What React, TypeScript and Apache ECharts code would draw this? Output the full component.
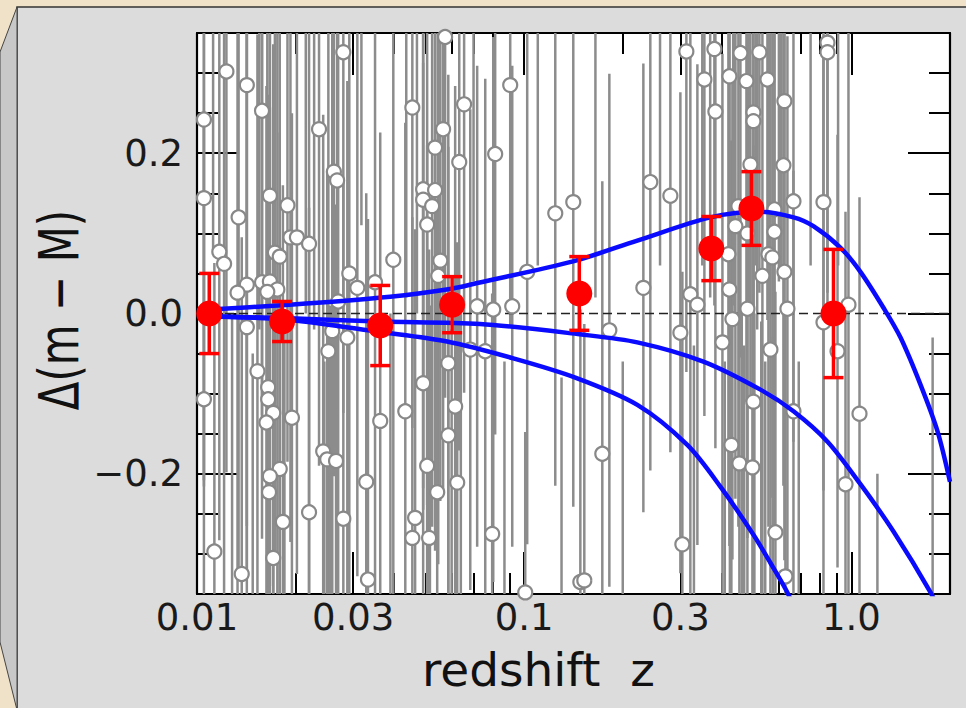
import React, { useEffect, useRef } from "react";
import * as echarts from "echarts";

// ---------- axis ranges & ticks ----------
const xMin = 0.01;
const xMax = 2.0;
const yMin = -0.35;
const yMax = 0.35;
const xMajorTicks = [0.01, 0.03, 0.1, 0.3, 1.0];
const xMajorLabels = ["0.01", "0.03", "0.1", "0.3", "1.0"];
const xMinorTicks = [0.02, 0.04, 0.05, 0.06, 0.07, 0.08, 0.09, 0.2, 0.4, 0.5, 0.6, 0.7, 0.8, 0.9, 2.0];
const yMajorTicks = [-0.2, 0, 0.2];
const yMajorLabels = ["\u22120.2", "0.0", "0.2"];
const yMinorTicks = [-0.3, -0.25, -0.15, -0.1, -0.05, 0.05, 0.1, 0.15, 0.25, 0.3];

// ---------- individual supernovae (grey) ----------
const snZ = [
  0.0123, 0.0142, 0.0158, 0.0105, 0.0236, 0.028, 0.0262, 0.0268, 0.0105, 0.0167,
  0.0189, 0.0134, 0.0193, 0.0202, 0.022, 0.0117, 0.0121, 0.0173, 0.0179, 0.0292,
  0.0142, 0.0133, 0.0158, 0.0167, 0.0176, 0.0164, 0.0309, 0.035, 0.027, 0.0398,
  0.0142, 0.0153, 0.0165, 0.0165, 0.0171, 0.0163, 0.0105, 0.0195, 0.0179, 0.0167,
  0.0166, 0.0183, 0.0113, 0.0137, 0.0171, 0.022, 0.0243, 0.025, 0.0266, 0.0252,
  0.0259, 0.0288, 0.0329, 0.028, 0.0333, 0.0363,
  0.0573, 0.0455, 0.0655, 0.0906, 0.0565, 0.0534, 0.0633, 0.0815, 0.0491, 0.0534,
  0.0491, 0.0523, 0.0505, 0.0554, 0.0546, 0.1021, 0.1244, 0.1412, 0.0718, 0.0804,
  0.0919, 0.0433, 0.0491, 0.0586, 0.0615, 0.0586, 0.0505, 0.0542, 0.0624, 0.0464,
  0.0455, 0.0512, 0.0798, 0.0684, 0.076, 0.1007, 0.1484,
  0.2428, 0.2796, 0.2312, 0.3129, 0.3811, 0.4577, 0.5231, 0.3552, 0.4236, 0.4775,
  0.5535, 0.3838, 0.5015, 0.5015, 0.4911, 0.4512, 0.4418, 0.4808, 0.4206, 0.5343,
  0.4236, 0.3218, 0.3381, 0.4808, 0.5574, 0.6237, 0.8445, 0.8445, 0.6194, 0.6648,
  0.8211, 0.5814, 0.5814, 0.5733, 0.6237, 0.6371, 0.979, 0.8211, 0.182, 0.3,
  0.4033, 0.4326, 0.5653, 0.1732, 0.5015, 0.4295, 0.4544, 0.498, 0.3042, 0.1526,
  0.9063, 0.6648, 1.058, 0.9587, 0.5855, 0.6282,
  0.0112, 0.0148, 0.0215, 0.0245, 0.0318, 0.039, 0.047, 0.06, 0.07, 0.087,
  0.11, 0.13, 0.165, 0.2, 0.26, 0.33, 0.37, 0.41, 0.44, 0.47,
  0.51, 0.545, 0.6, 0.69, 0.75, 0.91, 1.2, 1.77,
  0.425, 0.435, 0.462, 0.485, 0.505, 0.515, 0.53, 0.56, 0.575, 0.61,
  0.0128, 0.0155, 0.0185, 0.0228, 0.0255, 0.0436, 0.0515, 0.0545, 0.064, 0.35,
];
const snDm = [
  0.302, 0.285, 0.253, 0.242, 0.23, 0.326, 0.177, 0.166, 0.144, 0.147,
  0.135, 0.12, 0.095, 0.095, 0.087, 0.077, 0.062, 0.076, 0.071, 0.05,
  0.036, 0.026, 0.039, 0.04, 0.03, 0.027, 0.032, 0.039, 0.015, 0.067,
  -0.017, -0.072, -0.092, -0.107, -0.124, -0.136, -0.107, -0.13, -0.194, -0.203,
  -0.223, -0.26, -0.297, -0.325, -0.305, -0.248, -0.172, -0.182, -0.184, -0.047,
  -0.022, -0.03, -0.21, -0.256, -0.332, -0.134,
  0.345, 0.257, 0.261, 0.285, 0.23, 0.207, 0.189, 0.199, 0.155, 0.154,
  0.142, 0.134, 0.111, 0.066, 0.047, 0.052, 0.125, 0.139, 0.009, 0.005,
  0.009, -0.122, -0.087, -0.062, -0.116, -0.152, -0.19, -0.223, -0.211, -0.255,
  -0.28, -0.28, -0.275, -0.045, -0.047, -0.348, -0.335,
  0.164, 0.147, 0.032, 0.327, 0.33, 0.325, 0.326, 0.292, 0.296, 0.29,
  0.292, 0.252, 0.251, 0.24, 0.186, 0.134, 0.109, 0.1, 0.074, 0.047,
  0.03, 0.024, 0.011, 0.006, 0.074, 0.265, 0.338, 0.326, 0.185, 0.14,
  0.139, 0.13, 0.102, 0.07, 0.052, 0.006, 0.011, -0.011, -0.021, -0.024,
  -0.036, -0.007, -0.045, -0.175, -0.11, -0.164, -0.187, -0.192, -0.288, -0.333,
  -0.047, -0.122, -0.125, -0.213, -0.273, -0.328,
  0.42, -0.45, 0.4, -0.42, 0.45, -0.4, 0.4, -0.42, 0.38, -0.4,
  0.4, -0.4, 0.42, -0.4, 0.4, -0.4, 0.42, -0.42, 0.4, -0.4,
  0.42, -0.42, 0.4, -0.4, 0.4, 0.4, -0.45, -0.4,
  -0.42, 0.41, -0.44, 0.43, -0.4, 0.42, -0.43, 0.4, -0.41, 0.41,
  -0.42, 0.43, -0.4, 0.44, -0.41, 0.42, -0.43, 0.41, -0.44, 0.42,
];
const snErr = [
  0.5, 0.55, 0.38, 0.45, 0.42, 0.45, 0.38, 0.42, 0.36, 0.5,
  0.32, 0.45, 0.38, 0.42, 0.5, 0.36, 0.42, 0.38, 0.46, 0.5,
  0.36, 0.42, 0.32, 0.38, 0.42, 0.46, 0.36, 0.42, 0.46, 0.45,
  0.38, 0.42, 0.32, 0.38, 0.46, 0.42, 0.36, 0.38, 0.42, 0.46,
  0.38, 0.42, 0.36, 0.42, 0.46, 0.38, 0.42, 0.36, 0.32, 0.42,
  0.38, 0.32, 0.36, 0.42, 0.45, 0.36,
  0.45, 0.4, 0.36, 0.3, 0.45, 0.4, 0.36, 0.35, 0.4, 0.45,
  0.36, 0.4, 0.35, 0.3, 0.36, 0.34, 0.34, 0.38, 0.3, 0.34,
  0.3, 0.36, 0.4, 0.36, 0.4, 0.36, 0.4, 0.36, 0.3, 0.36,
  0.4, 0.36, 0.3, 0.3, 0.34, 0.2, 0.34,
  0.36, 0.32, 0.28, 0.4, 0.32, 0.38, 0.3, 0.42, 0.34, 0.4,
  0.3, 0.42, 0.34, 0.36, 0.3, 0.4, 0.34, 0.38, 0.3, 0.42,
  0.32, 0.38, 0.3, 0.36, 0.34, 0.38, 0.34, 0.3, 0.4, 0.3,
  0.36, 0.32, 0.38, 0.3, 0.36, 0.34, 0.42, 0.34, 0.32, 0.3,
  0.36, 0.3, 0.4, 0.34, 0.32, 0.38, 0.3, 0.36, 0.34, 0.32,
  0.27, 0.3, 0.27, 0.34, 0.3, 0.34,
  0.34, 0.4, 0.4, 0.36, 0.34, 0.4, 0.4, 0.4, 0.34, 0.34,
  0.34, 0.32, 0.4, 0.34, 0.34, 0.36, 0.4, 0.36, 0.4, 0.36,
  0.36, 0.36, 0.36, 0.34, 0.34, 0.34, 0.25, 0.37,
  0.45, 0.4, 0.45, 0.42, 0.4, 0.44, 0.42, 0.4, 0.38, 0.36,
  0.42, 0.45, 0.4, 0.46, 0.42, 0.4, 0.44, 0.4, 0.44, 0.36,
];

// ---------- binned averages (red) ----------
const binZ = [0.0109, 0.0182, 0.0363, 0.0602, 0.1473, 0.373, 0.4945, 0.881];
const binDm = [0.0, -0.01, -0.015, 0.011, 0.025, 0.081, 0.131, 0.0];
const binErr = [0.05, 0.025, 0.05, 0.035, 0.046, 0.04, 0.046, 0.08];

// ---------- model curves (blue) ----------
const curve1Z = [0.01, 0.0192, 0.0389, 0.06, 0.0718, 0.141, 0.2216, 0.3705, 0.516, 0.665, 0.765, 0.926, 1.065, 1.262, 1.412, 1.626, 1.832, 2.0];
const curve1Dm = [0.004, 0.011, 0.021, 0.031, 0.038, 0.065, 0.091, 0.12, 0.127, 0.12, 0.109, 0.082, 0.052, 0.005, -0.03, -0.089, -0.147, -0.21];
const curve2Z = [0.01, 0.0192, 0.0363, 0.0733, 0.148, 0.2216, 0.3527, 0.527, 0.665, 0.845, 1.065, 1.344, 1.744, 1.9];
const curve2Dm = [-0.003, -0.006, -0.01, -0.013, -0.026, -0.036, -0.06, -0.095, -0.122, -0.16, -0.213, -0.272, -0.348, -0.38];
const curve3Z = [0.01, 0.0192, 0.0363, 0.0581, 0.0926, 0.1432, 0.2216, 0.315, 0.3975, 0.5017, 0.565, 0.642, 0.7];
const curve3Dm = [-0.003, -0.008, -0.023, -0.035, -0.056, -0.08, -0.114, -0.164, -0.216, -0.276, -0.311, -0.351, -0.39];

const FONT = '"DejaVu Sans", Verdana, sans-serif';
const lg = (z: number) => Math.log10(z);

function labelFor(values: number[], labels: string[], v: number, tf: (n: number) => number) {
  const i = values.findIndex((t) => Math.abs(tf(t) - v) < 1e-6);
  return i >= 0 ? labels[i] : "";
}

function makeXAxis(position: "top" | "bottom", ticks: number[], len: number, labels: boolean, line: boolean) {
  return {
    type: "value",
    position,
    min: lg(xMin),
    max: lg(xMax),
    splitLine: { show: false },
    axisLine: { show: line, onZero: false, lineStyle: { color: "#000", width: 2.2 } },
    axisTick: { show: true, inside: true, length: len, customValues: ticks.map(lg), lineStyle: { color: "#000", width: 2 } },
    axisLabel: labels
      ? {
          show: true,
          customValues: xMajorTicks.map(lg),
          formatter: (v: number) => labelFor(xMajorTicks, xMajorLabels, v, lg),
          fontSize: 37,
          fontFamily: FONT,
          color: "#1a1a1a",
          margin: 5,
        }
      : { show: false },
    ...(labels
      ? {
          name: "redshift  z",
          nameLocation: "middle",
          nameGap: 52,
          nameTextStyle: { fontSize: 47, fontFamily: FONT, color: "#111", padding: [0, 70, 0, 0] },
        }
      : {}),
  };
}

function makeYAxis(position: "left" | "right", ticks: number[], len: number, labels: boolean, line: boolean) {
  return {
    type: "value",
    position,
    min: yMin,
    max: yMax,
    splitLine: { show: false },
    axisLine: { show: line, onZero: false, lineStyle: { color: "#000", width: 2.2 } },
    axisTick: { show: true, inside: true, length: len, customValues: ticks, lineStyle: { color: "#000", width: 2 } },
    axisLabel: labels
      ? {
          show: true,
          customValues: yMajorTicks,
          formatter: (v: number) => labelFor(yMajorTicks, yMajorLabels, v, (n) => n),
          fontSize: 37,
          fontFamily: FONT,
          color: "#1a1a1a",
          margin: 14,
        }
      : { show: false },
  };
}

export default function App() {
  const ref = useRef<HTMLDivElement>(null);
  useEffect(() => {
    if (!ref.current) return;
    const chart = echarts.init(ref.current, undefined, { renderer: "svg" });

    const snPts = snZ.map((z, i) => [lg(z), snDm[i], snErr[i]]);
    const binPts = binZ.map((z, i) => [lg(z), binDm[i], binErr[i]]);
    const curve = (zs: number[], ds: number[]) => zs.map((z, i) => [lg(z), ds[i]]);
    const blue = { color: "#0a0aff", width: 4.5 };

    const option: any = {
      animation: false,
      backgroundColor: "#efe2c9",
      graphic: [
        {
          type: "rect",
          z: -100,
          silent: true,
          shape: { x: 17, y: 7, width: 960, height: 710 },
          style: { fill: "#dcdcdc", stroke: "#333", lineWidth: 1.5 },
        },
        {
          type: "polygon",
          z: -99,
          silent: true,
          shape: { points: [[0, 52], [17, 7], [17, 710], [0, 642]] },
          style: { fill: "#c8c8c8", stroke: "#444", lineWidth: 1 },
        },
        {
          type: "text",
          z: 10,
          silent: true,
          x: 59,
          y: 310,
          rotation: Math.PI / 2,
          scaleY: 1.3,
          style: {
            text: "\u0394(m \u2212 M)",
            fontSize: 42,
            fontFamily: FONT,
            fill: "#111",
            align: "center",
            verticalAlign: "middle",
          },
        },
      ],
      grid: { left: 197, top: 33, width: 753, height: 561, show: true, backgroundColor: "#ffffff", borderWidth: 0 },
      xAxis: [
        makeXAxis("bottom", xMajorTicks, 42, true, true),
        makeXAxis("bottom", xMinorTicks, 21, false, false),
        makeXAxis("top", xMajorTicks, 42, false, true),
        makeXAxis("top", xMinorTicks, 21, false, false),
      ],
      yAxis: [
        makeYAxis("left", yMajorTicks, 42, true, true),
        makeYAxis("left", yMinorTicks, 21, false, false),
        makeYAxis("right", yMajorTicks, 42, false, true),
        makeYAxis("right", yMinorTicks, 21, false, false),
      ],
      series: [
        {
          type: "custom",
          name: "snErrors",
          silent: true,
          clip: true,
          z: 1,
          encode: { x: 0, y: 1 },
          data: snPts,
          renderItem: (params: any, api: any) => {
            const x = api.value(0);
            const y = api.value(1);
            const e = api.value(2);
            const p1 = api.coord([x, y + e]);
            const p2 = api.coord([x, y - e]);
            return {
              type: "line",
              shape: { x1: p1[0], y1: p1[1], x2: p2[0], y2: p2[1] },
              style: { stroke: "#8c8c8c", lineWidth: 2.5 },
            };
          },
        },
        {
          type: "line",
          name: "zero",
          silent: true,
          z: 2,
          symbol: "none",
          data: [[lg(xMin), 0], [lg(xMax), 0]],
          lineStyle: { color: "#222", width: 1.6, type: [9, 5] },
        },
        {
          type: "scatter",
          name: "sn",
          silent: true,
          z: 3,
          clip: true,
          symbol: "circle",
          symbolSize: 14,
          data: snPts.map((p) => [p[0], p[1]]),
          itemStyle: { color: "#ffffff", borderColor: "#888888", borderWidth: 2.2, opacity: 1 },
        },
        {
          type: "line",
          name: "model1",
          silent: true,
          z: 4,
          symbol: "none",
          smooth: 0.3,
          clip: true,
          data: curve(curve1Z, curve1Dm),
          lineStyle: blue,
        },
        {
          type: "line",
          name: "model2",
          silent: true,
          z: 4,
          symbol: "none",
          smooth: 0.3,
          clip: true,
          data: curve(curve2Z, curve2Dm),
          lineStyle: blue,
        },
        {
          type: "line",
          name: "model3",
          silent: true,
          z: 4,
          symbol: "none",
          smooth: 0.3,
          clip: true,
          data: curve(curve3Z, curve3Dm),
          lineStyle: blue,
        },
        {
          type: "custom",
          name: "binErrors",
          silent: true,
          clip: true,
          z: 5,
          encode: { x: 0, y: 1 },
          data: binPts,
          renderItem: (params: any, api: any) => {
            const x = api.value(0);
            const y = api.value(1);
            const e = api.value(2);
            const top = api.coord([x, y + e]);
            const bot = api.coord([x, y - e]);
            const hw = 10;
            const st = { stroke: "#ff0000", lineWidth: 3.5 };
            return {
              type: "group",
              children: [
                { type: "line", shape: { x1: top[0], y1: top[1], x2: bot[0], y2: bot[1] }, style: st },
                { type: "line", shape: { x1: top[0] - hw, y1: top[1], x2: top[0] + hw, y2: top[1] }, style: st },
                { type: "line", shape: { x1: bot[0] - hw, y1: bot[1], x2: bot[0] + hw, y2: bot[1] }, style: st },
              ],
            };
          },
        },
        {
          type: "scatter",
          name: "bins",
          silent: true,
          z: 6,
          symbol: "circle",
          symbolSize: 26,
          data: binPts.map((p) => [p[0], p[1]]),
          itemStyle: { color: "#ff0000", opacity: 1 },
        },
      ],
    };
    chart.setOption(option);
    return () => chart.dispose();
  }, []);

  return (
    <div
      ref={ref}
      style={{ position: "fixed", left: 0, top: 0, width: 966, height: 708 }}
    />
  );
}
